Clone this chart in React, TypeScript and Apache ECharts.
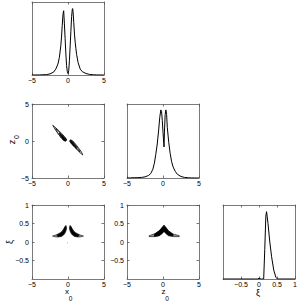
import React, { useEffect, useRef } from 'react';
import * as echarts from 'echarts';

// ---- marginal densities ----
const x0Grid = [-5, -4, -3, -2.5, -2, -1.7, -1.4, -1.2, -1.0, -0.9, -0.8, -0.7, -0.6, -0.5, -0.4, -0.3, -0.2, -0.1, 0, 0.1, 0.2, 0.3, 0.4, 0.5, 0.6, 0.65, 0.7, 0.8, 0.9, 1.0, 1.1, 1.2, 1.4, 1.7, 2, 2.5, 3, 3.5, 4, 5];
const x0Dens = [0, 0.001, 0.005, 0.015, 0.04, 0.08, 0.15, 0.24, 0.4, 0.52, 0.68, 0.83, 0.88, 0.7, 0.5, 0.3, 0.13, 0.05, 0.02, 0.06, 0.2, 0.4, 0.6, 0.8, 0.9, 0.91, 0.87, 0.72, 0.56, 0.45, 0.36, 0.28, 0.17, 0.08, 0.045, 0.02, 0.008, 0.003, 0.001, 0];

const z0Grid = [-5, -4.5, -4, -3.5, -3, -2.5, -2, -1.7, -1.4, -1.2, -1.0, -0.8, -0.6, -0.45, -0.3, -0.2, -0.1, 0, 0.1, 0.14, 0.2, 0.3, 0.4, 0.5, 0.6, 0.8, 1.0, 1.2, 1.4, 1.7, 2, 2.5, 3, 3.5, 4, 5];
const z0Dens = [0, 0.002, 0.004, 0.005, 0.008, 0.015, 0.035, 0.06, 0.12, 0.2, 0.32, 0.46, 0.65, 0.82, 0.92, 0.9, 0.78, 0.62, 0.47, 0.42, 0.62, 0.86, 0.92, 0.86, 0.68, 0.48, 0.33, 0.22, 0.15, 0.09, 0.05, 0.02, 0.008, 0.003, 0.001, 0];

const xiGrid = [-1, -0.5, -0.1, -0.03, 0, 0.03, 0.06, 0.13, 0.16, 0.19, 0.21, 0.25, 0.3, 0.35, 0.41, 0.47, 0.52, 1];
const xiDens = [0, 0, 0, 0, 0.012, 0.004, 0, 0, 0.4, 0.85, 0.91, 0.75, 0.5, 0.3, 0.12, 0.02, 0, 0];

// ---- 2D contours (x0, z0) ----
const xzLeftOuter = [[-2.12, 2.12], [-1.68, 1.76], [-1.27, 1.39], [-0.88, 1.01], [-0.5, 0.62], [-0.27, 0.33], [-0.2, 0.1], [-0.32, -0.02], [-0.58, 0.05], [-0.84, 0.3], [-1.17, 0.73], [-1.5, 1.17], [-1.82, 1.62]];
const xzLeftMid = [[-1.7, 1.68], [-1.3, 1.3], [-0.9, 0.9], [-0.5, 0.52], [-0.3, 0.28], [-0.25, 0.1], [-0.35, 0.03], [-0.58, 0.1], [-0.9, 0.4], [-1.25, 0.85], [-1.6, 1.4]];
const xzLeftCore = [[-1.2, 1.08], [-0.85, 0.78], [-0.5, 0.45], [-0.32, 0.22], [-0.3, 0.08], [-0.4, 0.05], [-0.6, 0.15], [-0.85, 0.45], [-1.2, 0.95]];
const xzRightOuter = [[2.05, -1.88], [1.72, -1.62], [1.3, -1.22], [0.92, -0.86], [0.58, -0.5], [0.35, -0.22], [0.24, 0.05], [0.36, 0.14], [0.6, 0.06], [0.88, -0.22], [1.2, -0.6], [1.52, -1.02], [1.85, -1.45]];
const xzRightMid = [[1.68, -1.5], [1.3, -1.12], [0.9, -0.74], [0.52, -0.38], [0.33, -0.14], [0.3, 0.06], [0.4, 0.1], [0.6, -0.02], [0.92, -0.38], [1.27, -0.85], [1.6, -1.28]];
const xzRightCore = [[1.2, -1.0], [0.85, -0.65], [0.5, -0.3], [0.33, -0.08], [0.35, 0.07], [0.45, 0.05], [0.62, -0.12], [0.88, -0.45], [1.2, -0.88]];

// ---- 2D contours (x0, xi) ----
const xxLeftOuter = [[-2.15, 0.16], [-1.7, 0.19], [-1.35, 0.22], [-1.0, 0.26], [-0.74, 0.31], [-0.55, 0.37], [-0.42, 0.42], [-0.3, 0.45], [-0.2, 0.4], [-0.25, 0.32], [-0.38, 0.25], [-0.6, 0.19], [-0.9, 0.15], [-1.35, 0.135], [-1.8, 0.14]];
const xxLeftCore = [[-1.5, 0.19], [-1.1, 0.23], [-0.8, 0.28], [-0.55, 0.35], [-0.4, 0.41], [-0.3, 0.42], [-0.27, 0.36], [-0.4, 0.28], [-0.6, 0.21], [-0.9, 0.165], [-1.3, 0.15], [-1.5, 0.16]];
const xxRightOuter = [[2.15, 0.16], [1.7, 0.19], [1.35, 0.22], [1.0, 0.26], [0.74, 0.31], [0.55, 0.37], [0.42, 0.42], [0.3, 0.45], [0.2, 0.4], [0.25, 0.32], [0.38, 0.25], [0.6, 0.19], [0.9, 0.15], [1.35, 0.135], [1.8, 0.14]];
const xxRightCore = [[1.5, 0.19], [1.1, 0.23], [0.8, 0.28], [0.55, 0.35], [0.4, 0.41], [0.3, 0.42], [0.27, 0.36], [0.4, 0.28], [0.6, 0.21], [0.9, 0.165], [1.3, 0.15], [1.5, 0.16]];
const xxDot = [[-0.08, -0.005], [-0.02, -0.005], [-0.02, -0.035], [-0.08, -0.035]];

// ---- 2D contours (z0, xi) ----
const zxOuter = [[-1.94, 0.17], [-1.11, 0.225], [-0.42, 0.315], [-0.04, 0.42], [0.14, 0.46], [0.32, 0.42], [0.74, 0.305], [1.43, 0.215], [2.26, 0.17], [2.26, 0.145], [1.43, 0.145], [0.74, 0.17], [0.32, 0.25], [0.14, 0.31], [-0.04, 0.25], [-0.51, 0.17], [-1.11, 0.145], [-1.94, 0.145]];
const zxCore = [[-1.2, 0.21], [-0.6, 0.29], [-0.2, 0.37], [0.14, 0.44], [0.45, 0.37], [0.85, 0.28], [1.4, 0.2], [1.4, 0.165], [0.8, 0.18], [0.35, 0.24], [0.14, 0.3], [-0.05, 0.24], [-0.5, 0.175], [-1.2, 0.155]];

const posTicks = { min: -5, max: 5, interval: 5 };
const xiTicks = { min: -1, max: 1, interval: 0.5 };

const FONT = 'Liberation Sans, Arial, Helvetica, sans-serif';
const BOX = '#7a7a7a';

const grids = [
  { left: 32, top: 2, width: 72, height: 73 },
  { left: 32, top: 104, width: 72, height: 74 },
  { left: 127, top: 104, width: 72, height: 74 },
  { left: 32, top: 205, width: 72, height: 74 },
  { left: 127, top: 205, width: 72, height: 74 },
  { left: 223, top: 205, width: 72, height: 74 },
];

const fmt = (v: number) => String(v).replace('-', '\u2212');

function axis(gi: number, range: any, opts: { pos: string; labels: boolean; ticks: boolean; hideMin?: boolean }) {
  return {
    type: 'value',
    gridIndex: gi,
    position: opts.pos,
    min: range.min,
    max: range.max,
    interval: range.interval,
    axisLine: { show: true, onZero: false, lineStyle: { color: BOX, width: 1 } },
    axisTick: { show: opts.ticks, inside: true, length: 2.5, lineStyle: { color: '#555', width: 0.8 } },
    axisLabel: {
      show: opts.labels,
      formatter: fmt,
      fontSize: 7,
      fontFamily: FONT,
      color: '#000',
      margin: opts.pos === 'bottom' ? 1.5 : 3,
      showMinLabel: opts.hideMin ? false : true,
      showMaxLabel: true,
    },
    splitLine: { show: false },
  };
}

const unit = { min: 0, max: 1, interval: 1 };

const xAxes: any[] = [];
const yAxes: any[] = [];
// grid 0: x0 marginal
xAxes.push(axis(0, posTicks, { pos: 'bottom', labels: true, ticks: true }), axis(0, posTicks, { pos: 'top', labels: false, ticks: true }));
yAxes.push(axis(0, unit, { pos: 'left', labels: false, ticks: false }), axis(0, unit, { pos: 'right', labels: false, ticks: false }));
// grid 1: x0-z0
xAxes.push(axis(1, posTicks, { pos: 'bottom', labels: true, ticks: true }), axis(1, posTicks, { pos: 'top', labels: false, ticks: true }));
yAxes.push(axis(1, posTicks, { pos: 'left', labels: true, ticks: true }), axis(1, posTicks, { pos: 'right', labels: false, ticks: true }));
// grid 2: z0 marginal
xAxes.push(axis(2, posTicks, { pos: 'bottom', labels: true, ticks: true }), axis(2, posTicks, { pos: 'top', labels: false, ticks: true }));
yAxes.push(axis(2, unit, { pos: 'left', labels: false, ticks: false }), axis(2, unit, { pos: 'right', labels: false, ticks: false }));
// grid 3: x0-xi
xAxes.push(axis(3, posTicks, { pos: 'bottom', labels: true, ticks: true }), axis(3, posTicks, { pos: 'top', labels: false, ticks: true }));
yAxes.push(axis(3, xiTicks, { pos: 'left', labels: true, ticks: true, hideMin: true }), axis(3, xiTicks, { pos: 'right', labels: false, ticks: true }));
// grid 4: z0-xi
xAxes.push(axis(4, posTicks, { pos: 'bottom', labels: true, ticks: true }), axis(4, posTicks, { pos: 'top', labels: false, ticks: true }));
yAxes.push(axis(4, xiTicks, { pos: 'left', labels: true, ticks: true, hideMin: true }), axis(4, xiTicks, { pos: 'right', labels: false, ticks: true }));
// grid 5: xi marginal
xAxes.push(axis(5, xiTicks, { pos: 'bottom', labels: true, ticks: true, hideMin: true }), axis(5, xiTicks, { pos: 'top', labels: false, ticks: true }));
yAxes.push(axis(5, unit, { pos: 'left', labels: false, ticks: false }), axis(5, unit, { pos: 'right', labels: false, ticks: false }));

function lineSeries(gi: number, xs: number[], ys: number[]) {
  return {
    type: 'line',
    xAxisIndex: 2 * gi,
    yAxisIndex: 2 * gi,
    data: xs.map((x, i) => [x, ys[i]]),
    showSymbol: false,
    symbol: 'none',
    lineStyle: { color: '#000', width: 1 },
    silent: true,
    z: 3,
  };
}

function polySeries(gi: number, polys: number[][][], styles: any[]) {
  return {
    type: 'custom',
    xAxisIndex: 2 * gi,
    yAxisIndex: 2 * gi,
    coordinateSystem: 'cartesian2d',
    data: polys.map((p) => p[0]),
    silent: true,
    clip: true,
    z: 3,
    renderItem: (params: any, api: any) => {
      const poly = polys[params.dataIndex];
      const pts = poly.map((p) => api.coord(p));
      return { type: 'polygon', shape: { points: pts }, style: styles[params.dataIndex] };
    },
  };
}

const outlineStyle = { fill: '#fff', stroke: '#000', lineWidth: 0.8 };
const coreStyle = { fill: '#000', stroke: '#000', lineWidth: 0.8 };
const greyOuter = { fill: '#9a9a9a', stroke: '#222', lineWidth: 0.7 };

const txt = (text: string, x: number, y: number, size: number) => ({
  type: 'text',
  x,
  y,
  style: { text, fontSize: size, fontFamily: FONT, fill: '#000', align: 'center', verticalAlign: 'middle' },
});

export default function App() {
  const ref = useRef<HTMLDivElement>(null);
  useEffect(() => {
    if (!ref.current) return;
    const chart = echarts.init(ref.current, undefined, { renderer: 'svg' });
    chart.setOption({
      animation: false,
      backgroundColor: '#fff',
      grid: grids.map((g) => ({ ...g, containLabel: false, show: false })),
      xAxis: xAxes,
      yAxis: yAxes,
      series: [
        lineSeries(0, x0Grid, x0Dens),
        polySeries(1, [xzLeftOuter, xzLeftMid, xzLeftCore, xzRightOuter, xzRightMid, xzRightCore], [outlineStyle, outlineStyle, coreStyle, outlineStyle, outlineStyle, coreStyle]),
        lineSeries(2, z0Grid, z0Dens),
        polySeries(3, [xxLeftOuter, xxLeftCore, xxRightOuter, xxRightCore, xxDot], [greyOuter, coreStyle, greyOuter, coreStyle, { fill: '#444', stroke: 'none' }]),
        polySeries(4, [zxOuter, zxCore], [greyOuter, coreStyle]),
        lineSeries(5, xiGrid, xiDens),
      ],
      graphic: [
        {
          type: 'group',
          x: 12,
          y: 142,
          rotation: Math.PI / 2,
          children: [txt('z', 0, 0, 9), txt('0', 5, 4, 7)],
        },
        {
          type: 'group',
          x: 10,
          y: 242,
          rotation: Math.PI / 2,
          children: [txt('\u03be', 0, 0, 9)],
        },
        txt('x', 67, 291.5, 8),
        txt('0', 70.5, 298.5, 6.5),
        txt('z', 163.5, 291.5, 8),
        txt('0', 167, 298.5, 6.5),
        txt('\u03be', 258, 292.5, 9),
      ],
    });
    return () => chart.dispose();
  }, []);
  return <div ref={ref} style={{ position: 'fixed', left: 0, top: 0, width: 300, height: 303 }} />;
}
